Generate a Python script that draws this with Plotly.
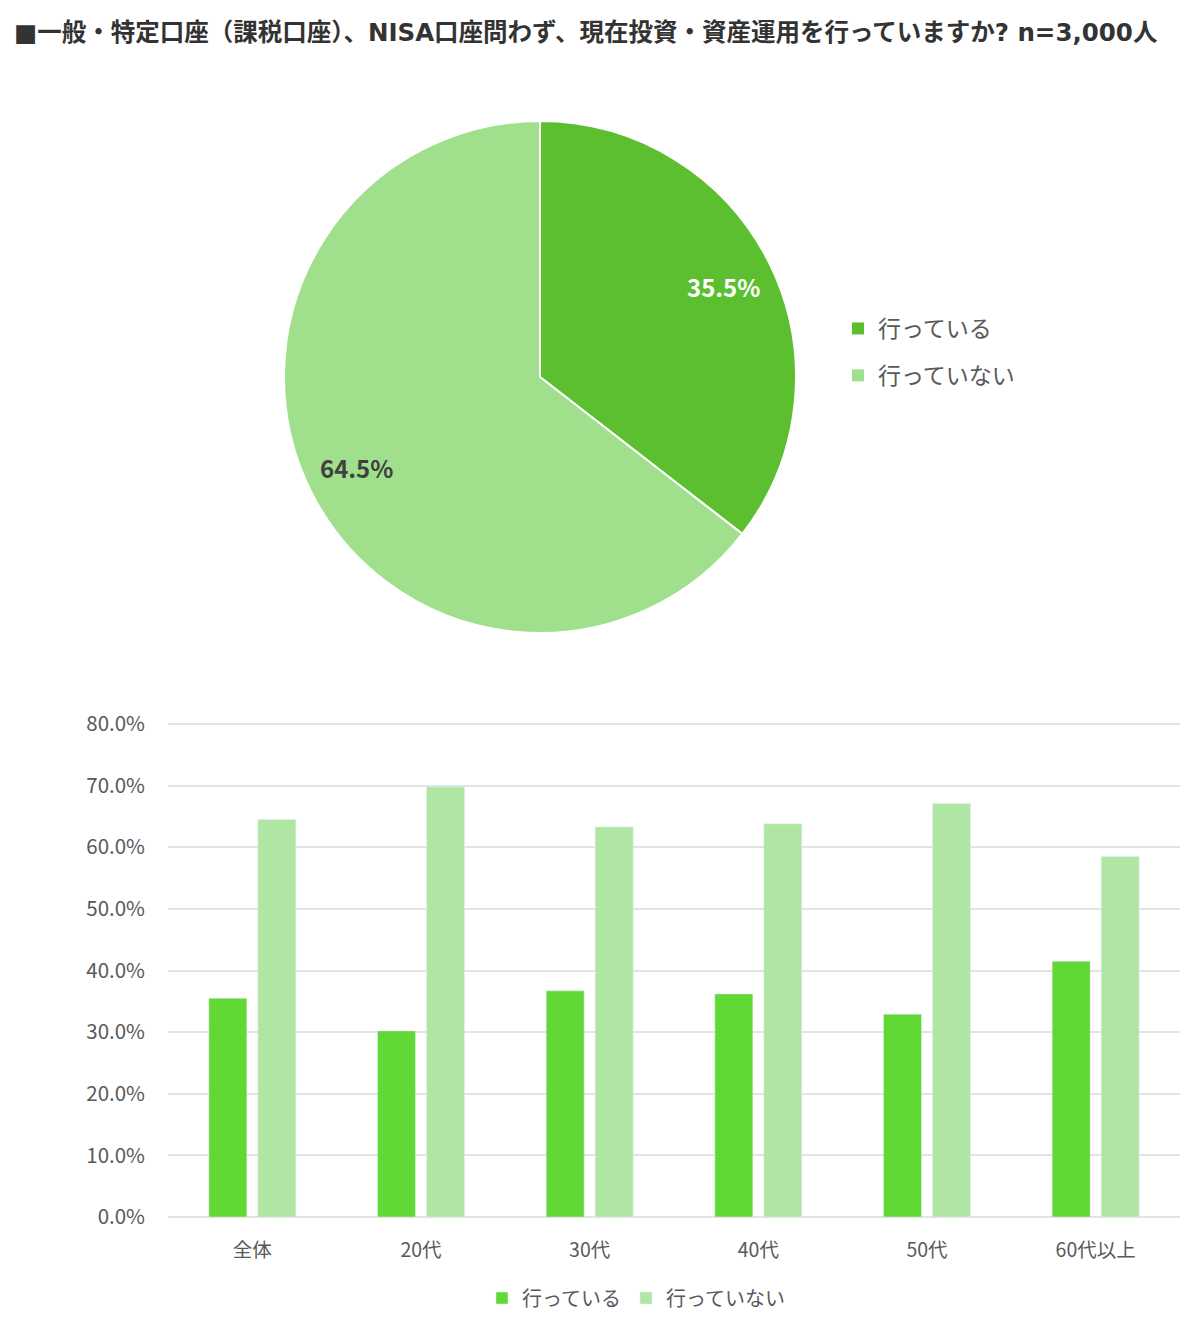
import math
import plotly.graph_objects as go

title_text = "■一般・特定口座（課税口座）、NISA口座問わず、現在投資・資産運用を行っていますか? n=3,000人"
series_names = ["行っている", "行っていない"]
pie_values = [35.5, 64.5]
categories = ["全体", "20代", "30代", "40代", "50代", "60代以上"]
doing = [35.5, 30.2, 36.7, 36.2, 32.9, 41.5]
not_doing = [64.5, 69.8, 63.3, 63.8, 67.1, 58.5]
y_ticks = [0, 10, 20, 30, 40, 50, 60, 70, 80]
y_ticklabels = [f"{v:.1f}%" for v in y_ticks]

FONT = "Noto Sans CJK JP"
TITLE_FONT = "DejaVu Sans, Noto Sans CJK JP"
pie_colors = ["#5bbf2f", "#a0e08c"]
pie_label_colors = ["white", "#404040"]
bar_colors = ["#62d836", "#b0e6a4"]

W, H = 1200, 1330
# pie geometry (pixels)
PCX, PCY, PR = 540, 377, 256
# bar plot area (pixels)
BX0, BX1, BY0, BY1 = 168, 1180, 1217, 724
YMAX = 80.4
px_per_unit = (BY0 - BY1) / 80.0

fig = go.Figure()

fig.add_trace(go.Pie(
    labels=series_names,
    values=pie_values,
    sort=False,
    direction="clockwise",
    rotation=0,
    marker=dict(colors=pie_colors, line=dict(color="white", width=2)),
    textinfo="none",
    domain=dict(x=[(PCX - PR) / W, (PCX + PR) / W], y=[1 - (PCY + PR) / H, 1 - (PCY - PR) / H]),
    showlegend=False,
    hoverinfo="label+percent",
))

# legend entries for the pie (grouped so the spacing can be set)
for i, name in enumerate(series_names):
    fig.add_trace(go.Scatter(
        x=[None], y=[None], mode="markers", name=name,
        marker=dict(symbol="square", size=12, color=pie_colors[i]),
        legend="legend", legendgroup=f"pie{i}", hoverinfo="skip",
    ))

fig.add_trace(go.Bar(
    x=categories, y=doing, name=series_names[0],
    marker=dict(color=bar_colors[0]), legend="legend2",
))
fig.add_trace(go.Bar(
    x=categories, y=not_doing, name=series_names[1],
    marker=dict(color=bar_colors[1]), legend="legend2",
))

# percentage labels on the pie, placed along each slice's mid-angle
annotations = []
total = sum(pie_values)
cum = 0.0
for i, v in enumerate(pie_values):
    mid = (cum + v / 2) / total * 2 * math.pi
    cum += v
    lx = PCX + 0.8 * PR * math.sin(mid)
    ly = PCY - 0.8 * PR * math.cos(mid)
    annotations.append(dict(
        text=f"{v:.1f}%", x=lx / W, y=1 - ly / H, xref="paper", yref="paper",
        xanchor="center", yanchor="middle", showarrow=False,
        font=dict(family=FONT, size=24, color=pie_label_colors[i], weight="bold"),
    ))

annotations.append(dict(
    text=title_text, x=12 / W, y=1 - 33 / H, xref="paper", yref="paper",
    xanchor="left", yanchor="middle", showarrow=False,
    font=dict(family=TITLE_FONT, size=24.5, color="#333333", weight="bold"),
))

fig.update_layout(
    width=W, height=H,
    margin=dict(l=0, r=0, t=0, b=0, autoexpand=False),
    paper_bgcolor="white", plot_bgcolor="white",
    font=dict(family=FONT, color="#595959"),
    barmode="group",
    bargap=0.419,
    bargroupgap=0.2245,
    xaxis=dict(
        type="category", categoryorder="array", categoryarray=categories,
        domain=[BX0 / W, BX1 / W],
        showgrid=False, showline=False, zeroline=False,
        tickfont=dict(size=19.5, color="#595959"),
        ticks="", ticklabelstandoff=19,
    ),
    yaxis=dict(
        domain=[1 - BY0 / H, 1 - (BY1 - (YMAX - 80) * px_per_unit) / H],
        range=[0, YMAX],
        tickvals=y_ticks, ticktext=y_ticklabels,
        showgrid=True, gridcolor="#e3e3e3", gridwidth=1.5,
        zeroline=True, zerolinecolor="#e3e3e3", zerolinewidth=1.5,
        showline=False,
        tickfont=dict(size=20.5, color="#595959"),
        ticks="", ticklabelstandoff=22,
    ),
    legend=dict(
        x=838 / W, y=1 - 352 / H, xanchor="left", yanchor="middle",
        font=dict(size=23, color="#595959"),
        bgcolor="rgba(0,0,0,0)",
        traceorder="grouped", tracegroupgap=14,
    ),
    legend2=dict(
        orientation="h",
        x=636 / W, y=1 - 1298 / H, xanchor="center", yanchor="middle",
        font=dict(size=20, color="#595959"),
        bgcolor="rgba(0,0,0,0)",
    ),
    annotations=annotations,
)

fig.write_html("out.html")
